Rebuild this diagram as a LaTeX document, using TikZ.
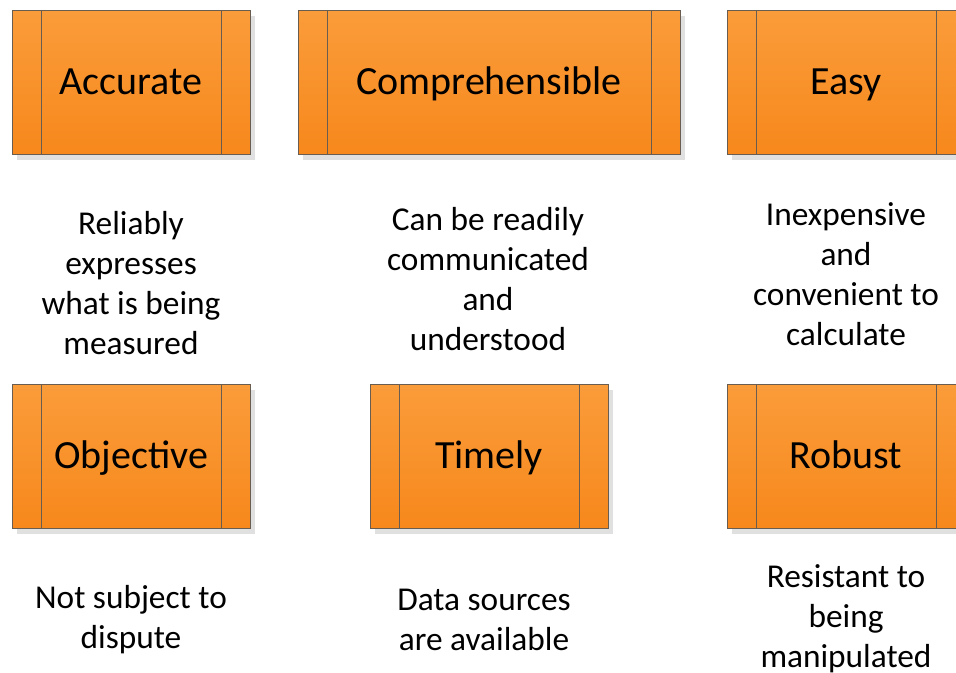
\documentclass[tikz,border=0pt]{standalone}
\usepackage{fontspec}
\setmainfont{Carlito}
\usetikzlibrary{shadows}

\definecolor{boxtop}{RGB}{250,156,58}
\definecolor{boxbottom}{RGB}{247,136,28}
\definecolor{boxline}{RGB}{105,92,80}

\tikzset{
	quality/.style={draw=boxline, line width=0.75pt, top color=boxtop, bottom color=boxbottom,
		minimum width=178.5pt, minimum height=108pt, inner sep=0pt,
		text height=22.5pt, text depth=4.5pt,
		font=\fontsize{30}{36}\selectfont,
		drop shadow={shadow xshift=4pt, shadow yshift=-4pt, fill=black!12, opacity=1},
		path picture={
			\draw [boxline, line width=0.75pt] ([xshift=21.75pt]path picture bounding box.north west) -- ([xshift=21.75pt]path picture bounding box.south west);
			\draw [boxline, line width=0.75pt] ([xshift=-21.75pt]path picture bounding box.north east) -- ([xshift=-21.75pt]path picture bounding box.south east);
		}},
	note/.style={align=center, inner sep=0pt, font=\fontsize{25}{30}\selectfont}
}

\begin{document}
\begin{tikzpicture}[x=0.75pt, y=-0.75pt]

\def\width{956}
\def\height{673}

\clip (0,0) rectangle (\width,\height);

% TOP ROW
\node [quality] (accurate) at (131,83) {Accurate};
\node [quality, minimum width=286.5pt] (comprehensible) at (489,83) {Comprehensible};
\node [quality] (easy) at (846,83) {Easy};

\node [note] (accurateTxt) at (131,283) {Reliably\\expresses\\what is being\\measured};
\node [note] (comprehensibleTxt) at (488,279) {Can be readily\\communicated\\and\\understood};
\node [note] (easyTxt) at (846,274) {Inexpensive\\and\\convenient to\\calculate};

% BOTTOM ROW
\node [quality] (objective) at (131,456.5) {Objective};
\node [quality] (timely) at (489,456.5) {Timely};
\node [quality] (robust) at (846,456.5) {Robust};

\node [note] (objectiveTxt) at (131,620) {Not subject to\\dispute};
\node [note] (timelyTxt) at (484,620) {Data sources\\are available};
\node [note] (robustTxt) at (846,619) {Resistant to\\being\\manipulated};

\end{tikzpicture}
\end{document}
